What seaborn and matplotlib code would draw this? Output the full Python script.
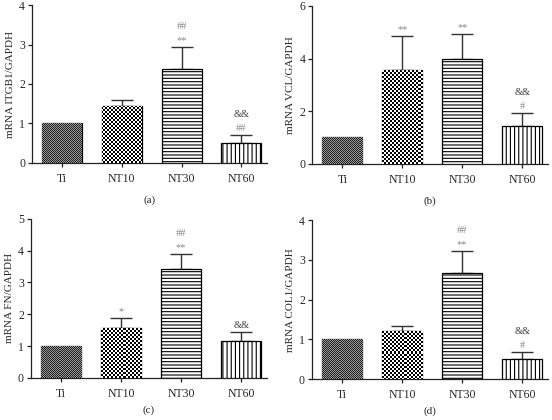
import numpy as np
import matplotlib
matplotlib.use("Agg")
import matplotlib.pyplot as plt
import seaborn as sns
from matplotlib.colors import ListedColormap

# %%
# valores (média e desvio, só o lado de cima)
grupos = ["Ti", "NT10", "NT30", "NT60"]

itgb1_media = [1.0, 1.44, 2.39, 0.50]
itgb1_dp = [0.0, 0.15, 0.54, 0.20]
itgb1_sig1 = ["", "", "**", "##"]
itgb1_sig2 = ["", "", "##", "&&"]

vcl_media = [1.0, 3.55, 4.00, 1.44]
vcl_dp = [0.0, 1.31, 0.93, 0.50]
vcl_sig1 = ["", "**", "**", "#"]
vcl_sig2 = ["", "", "", "&&"]

fn_media = [1.0, 1.56, 3.41, 1.15]
fn_dp = [0.0, 0.32, 0.49, 0.30]
fn_sig1 = ["", "*", "**", "&&"]
fn_sig2 = ["", "", "##", ""]

col1_media = [1.0, 1.22, 2.67, 0.50]
col1_dp = [0.0, 0.11, 0.56, 0.18]
col1_sig1 = ["", "", "**", "#"]
col1_sig2 = ["", "", "##", "&&"]

# %%
sns.set_style("ticks")
plt.rcParams["font.family"] = ["Liberation Serif", "DejaVu Serif"]
plt.rcParams["hatch.linewidth"] = 0.8
plt.rcParams["hatch.color"] = "black"


def xadrez(ax, barra, celula_px, cores):
    # padrão xadrez alinhado aos pixels, recortado pela própria barra
    x0, y0 = barra.get_x(), barra.get_y()
    w, h = barra.get_width(), barra.get_height()
    (p0x, p0y), (p1x, p1y) = ax.transData.transform([(x0, y0), (x0 + w, y0 + h)])
    q0x, q0y = np.floor(p0x), np.floor(p0y)
    nx = int(np.ceil((p1x - q0x) / celula_px))
    ny = int(np.ceil((p1y - q0y) / celula_px))
    inv = ax.transData.inverted()
    (d0x, d0y), (d1x, d1y) = inv.transform([(q0x, q0y),
                                            (q0x + nx * celula_px, q0y + ny * celula_px)])
    tabuleiro = np.indices((ny, nx)).sum(axis=0) % 2
    img = ax.imshow(tabuleiro, extent=(d0x, d1x, d0y, d1y), origin="lower",
                    cmap=ListedColormap(cores), interpolation="nearest",
                    aspect="auto", zorder=barra.get_zorder() + 0.1)
    img.set_clip_path(barra)


def painel(ax, media, dp, sig1, sig2, ymax, ypasso, ylabel, letra, pad_letra):
    sns.barplot(x=grupos, y=media, ax=ax, color="white", edgecolor="black",
                linewidth=0.9, width=0.667, errorbar=None, zorder=3)
    ax.set_xlim(-0.5, 3.43)
    ax.set_ylim(0, ymax)
    ax.set_yticks(np.arange(0, ymax + 0.01, ypasso))

    pos = np.arange(len(grupos))
    dp = np.array(dp)
    m = dp > 0
    ax.errorbar(pos[m], np.array(media)[m], yerr=[np.zeros(m.sum()), dp[m]],
                fmt="none", ecolor="#333333", elinewidth=1.0, capsize=7.8,
                capthick=1.0, zorder=2)

    barras = ax.patches
    xadrez(ax, barras[0], 1, ["#9a9a9a", "#1e1e1e"])
    xadrez(ax, barras[1], 2, ["white", "black"])
    barras[2].set_hatch("-----")
    barras[3].set_hatch("||||")
    ax.set_xlim(-0.5, 3.43)
    ax.set_ylim(0, ymax)

    for i in range(len(grupos)):
        topo = media[i] + dp[i]
        if sig1[i]:
            cor = "#444444" if sig1[i] == "&&" else "#888888"
            ax.annotate(sig1[i], (i, topo), xytext=(0, 1.5), textcoords="offset points",
                        ha="center", va="bottom", fontsize=7.5, color=cor)
        if sig2[i]:
            cor = "#444444" if sig2[i] == "&&" else "#888888"
            ax.annotate(sig2[i], (i, topo), xytext=(0, 11.5), textcoords="offset points",
                        ha="center", va="bottom", fontsize=7.5, color=cor)

    sns.despine(ax=ax)
    for lado in ["left", "bottom"]:
        ax.spines[lado].set_linewidth(0.9)
        ax.spines[lado].set_color("#222222")
    ax.tick_params(axis="both", labelsize=8.5, length=3, width=0.9, color="#222222", pad=2)
    ax.tick_params(axis="x", pad=4)
    ax.set_ylabel(ylabel, fontsize=8, labelpad=3)
    ax.set_xlabel(letra, fontsize=8, labelpad=pad_letra)


fig = plt.figure(figsize=(5.52, 4.2), dpi=100)
ax_a = fig.add_axes([0.058, 0.612, 0.426, 0.376])
ax_b = fig.add_axes([0.566, 0.610, 0.427, 0.376])
ax_c = fig.add_axes([0.056, 0.100, 0.428, 0.379])
ax_d = fig.add_axes([0.565, 0.097, 0.428, 0.379])

painel(ax_a, itgb1_media, itgb1_dp, itgb1_sig1, itgb1_sig2, 4, 1, "mRNA ITGB1/GAPDH", "(a)", 8)
painel(ax_b, vcl_media, vcl_dp, vcl_sig1, vcl_sig2, 6, 2, "mRNA VCL/GAPDH", "(b)", 8)
painel(ax_c, fn_media, fn_dp, fn_sig1, fn_sig2, 5, 1, "mRNA FN/GAPDH", "(c)", 4)
painel(ax_d, col1_media, col1_dp, col1_sig1, col1_sig2, 4, 1, "mRNA COL1/GAPDH", "(d)", 4)

fig.savefig("out.png", dpi=100)
